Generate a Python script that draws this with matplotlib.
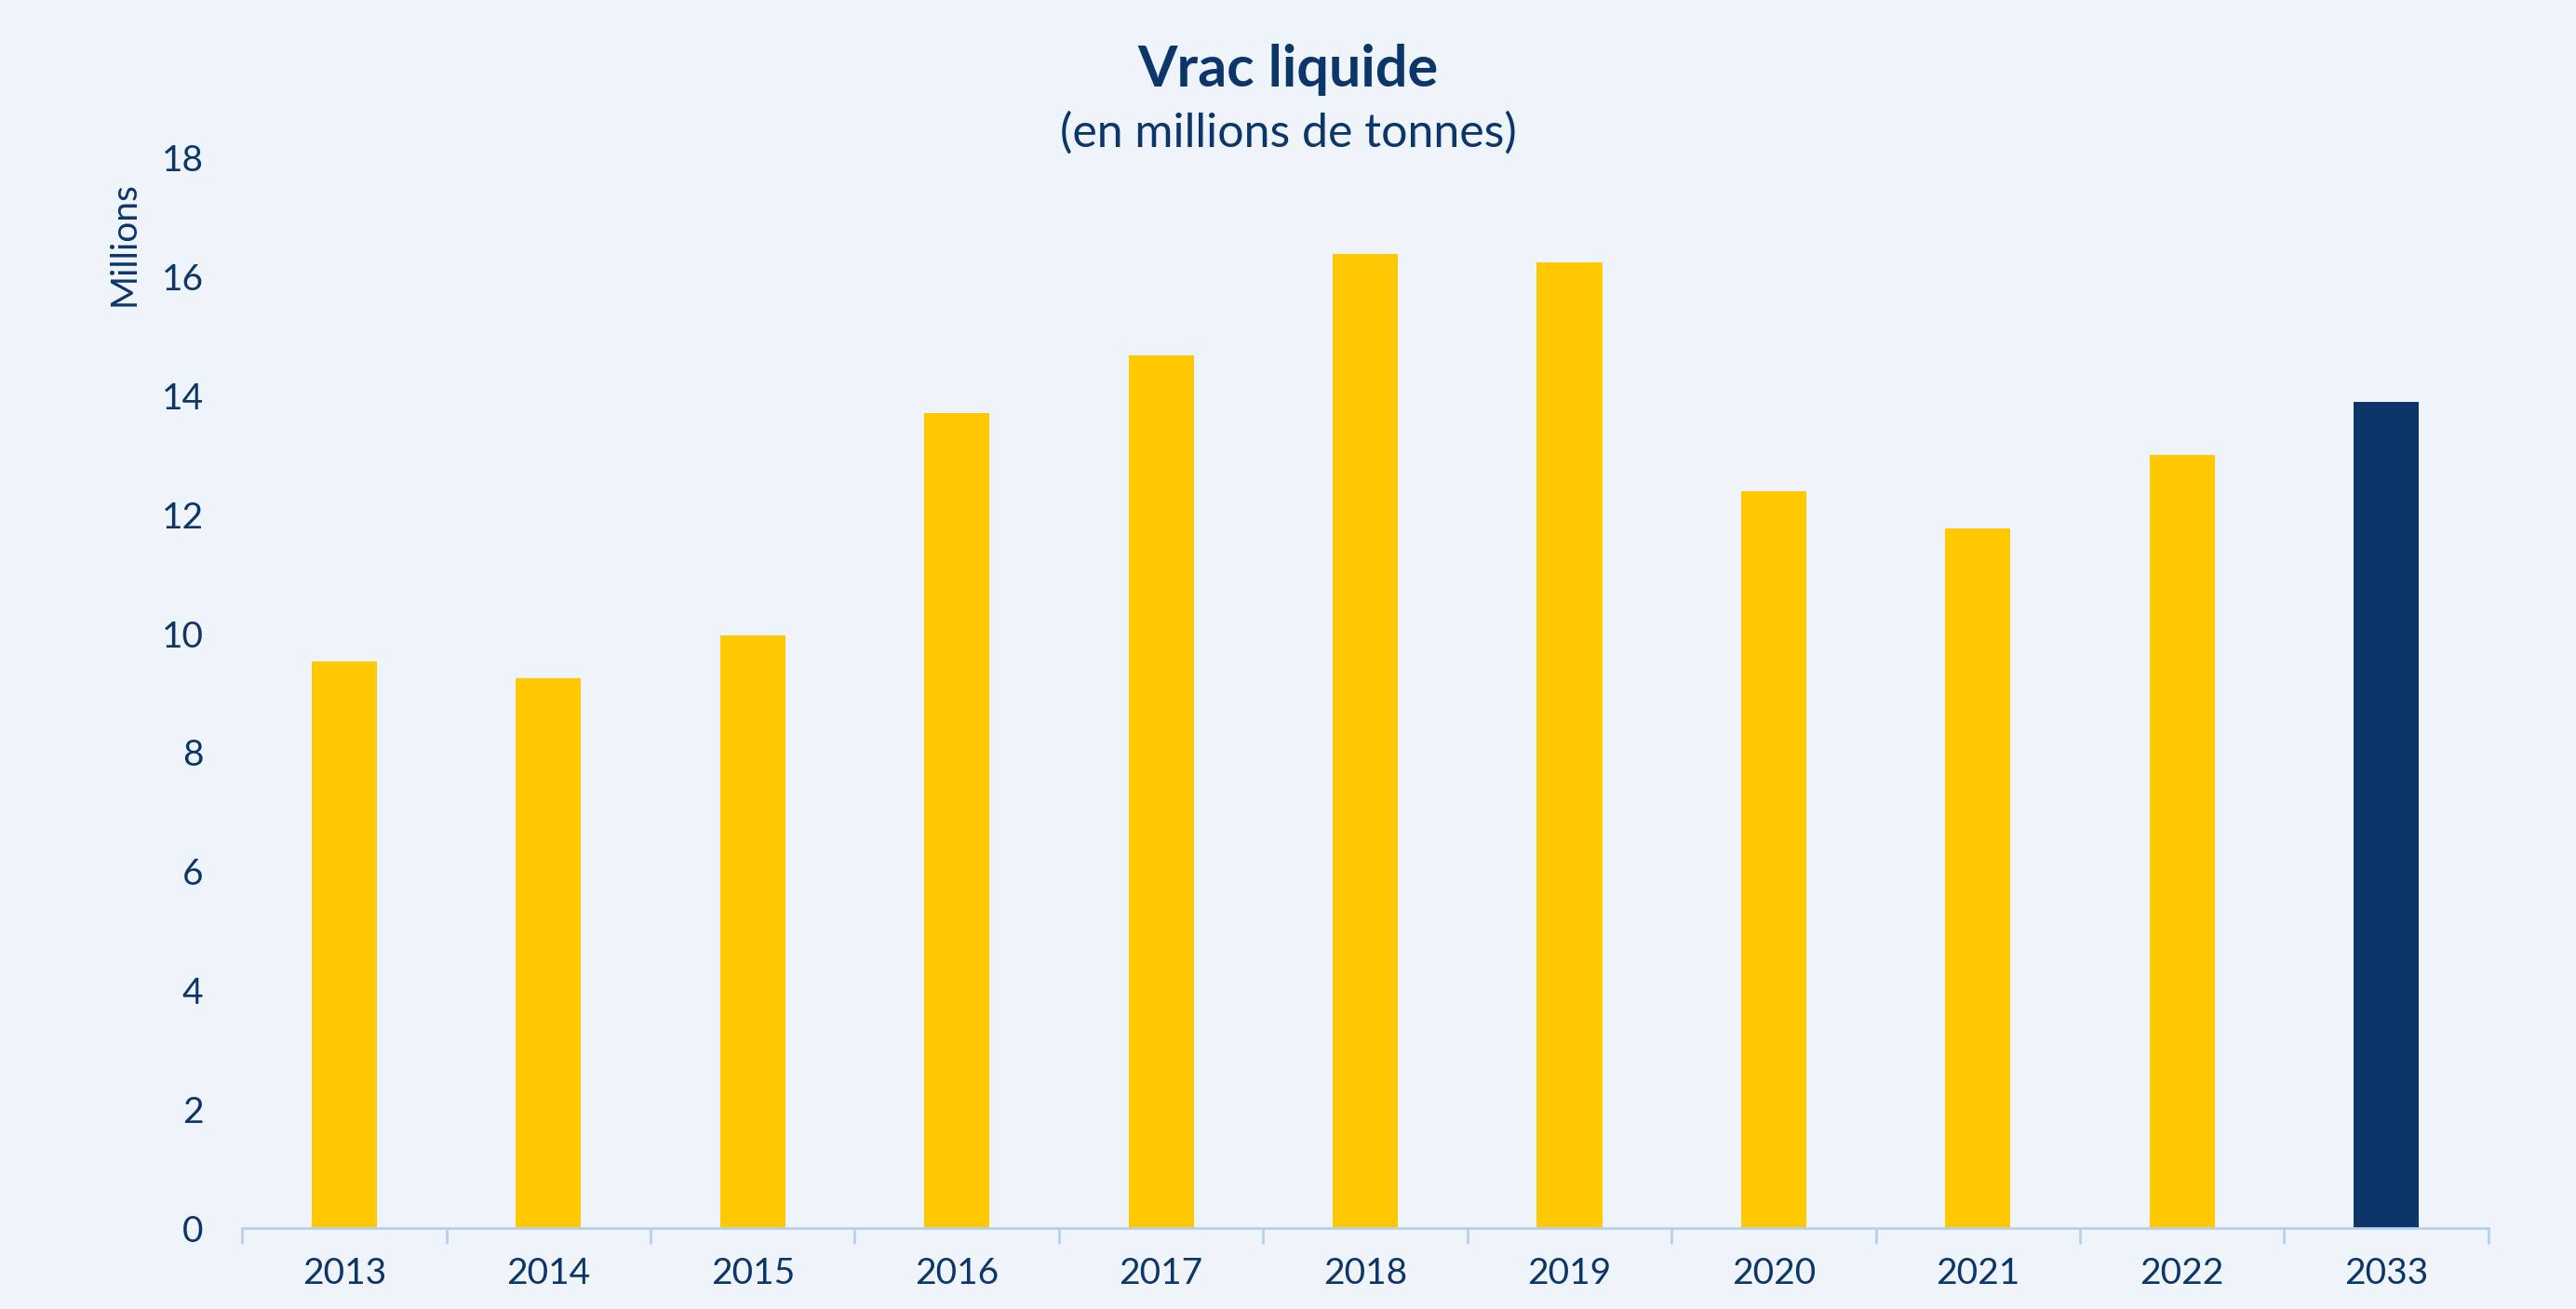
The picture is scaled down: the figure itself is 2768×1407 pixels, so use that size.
import matplotlib
matplotlib.use("Agg")
import matplotlib.pyplot as plt
import numpy as np

years = ["2013", "2014", "2015", "2016", "2017", "2018", "2019", "2020", "2021", "2022", "2033"]
values = [9.53, 9.25, 9.97, 13.70, 14.67, 16.38, 16.24, 12.40, 11.77, 13.01, 13.90]

navy = "#0c356a"
yellow = "#ffc800"
bg = "#eef4f9"
plt.rcParams["font.family"] = "Lato"

fig = plt.figure(figsize=(27.68, 14.07), dpi=100, facecolor=bg)
ax = fig.add_axes([0.094, 0.0615, 0.872, 0.818], facecolor=bg)

x = np.arange(len(years))
colors = [yellow] * (len(years) - 1) + [navy]
ax.bar(x, values, width=0.32, color=colors)

ax.set_xlim(-0.5, len(years) - 0.5)
ax.set_ylim(0, 18)
ax.set_yticks(range(0, 19, 2))
ax.tick_params(axis="y", length=0, labelsize=28, labelcolor=navy, pad=30)
ax.set_xticks(x)
ax.set_xticklabels(years)
ax.tick_params(axis="x", length=0, labelsize=28, labelcolor=navy, pad=22)
ax.set_xticks(np.arange(-0.5, len(years)), minor=True)
ax.tick_params(axis="x", which="minor", length=12, color="#b9cfee", width=2)

for s in ["top", "right", "left"]:
    ax.spines[s].set_visible(False)
ax.spines["bottom"].set_color("#b9cfee")
ax.spines["bottom"].set_linewidth(2)

ax.set_ylabel("Millions", fontsize=28, color=navy)
ax.yaxis.set_label_coords(-0.045, 0.92)

fig.text(0.5, 0.947, "Vrac liquide", ha="center", va="center", fontsize=44,
         fontweight="bold", color=navy)
fig.text(0.5, 0.898, "(en millions de tonnes)", ha="center", va="center",
         fontsize=36, color=navy)

fig.savefig("out.png", dpi=100, facecolor=bg)
